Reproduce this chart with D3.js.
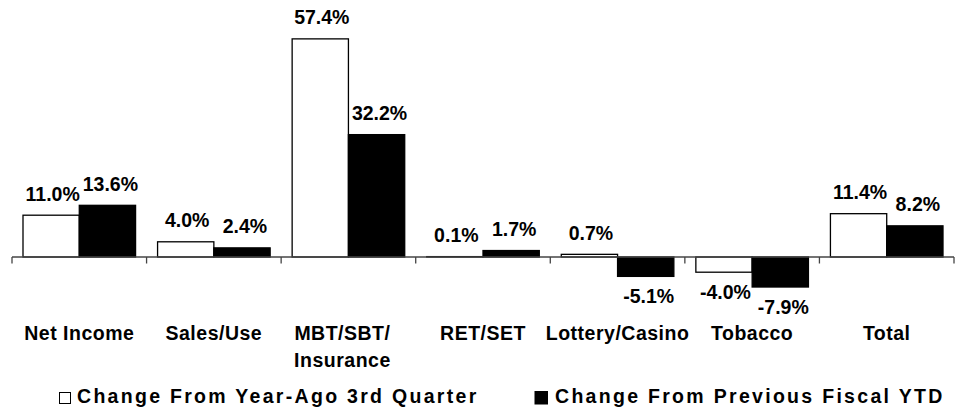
<!DOCTYPE html>
<html>
<head>
<meta charset="utf-8">
<script src="https://cdn.jsdelivr.net/npm/d3@7"></script>
<style>
  body { margin:0; background:#fff; }
  svg { display:block; font-family:"Liberation Sans", Arial, sans-serif; font-weight:bold; }
</style>
</head>
<body>
<div id="chart"></div>
<script>

var categories = [["Net Income"], ["Sales/Use"], ["MBT/SBT/", "Insurance"], ["RET/SET"], ["Lottery/Casino"], ["Tobacco"], ["Total"]];
var seriesNames = ["Change From Year-Ago 3rd Quarter", "Change From Previous Fiscal YTD"];
var yearAgoQuarter = [11.0, 4.0, 57.4, 0.1, 0.7, -4.0, 11.4];
var previousYTD = [13.6, 2.4, 32.2, 1.7, -5.1, -7.9, 8.2];
var seriesFill = ["#ffffff", "#000000"];

var width = 956, height = 413;

var svg = d3.select("#chart").append("svg")
  .attr("width", width)
  .attr("height", height);

var rows = categories.map(function(c, i){
  return {label:c, values:[yearAgoQuarter[i], previousYTD[i]]};
});

var x0 = d3.scaleBand()
  .domain(d3.range(categories.length))
  .range([12, 954])
  .padding(0);

var x1 = d3.scaleBand()
  .domain([0, 1])
  .range([11, x0.bandwidth() - 11])
  .padding(0);

var y = d3.scaleLinear()
  .domain([-10, 60])
  .range([295, 29]);

var groups = svg.append("g").selectAll("g")
  .data(rows)
  .enter().append("g")
  .attr("transform", function(d, i){ return "translate(" + x0(i) + ",0)"; });

groups.selectAll("rect")
  .data(function(d){ return d.values; })
  .enter().append("rect")
  .attr("x", function(d, j){ return x1(j); })
  .attr("y", function(d){ return y(Math.max(0, d)); })
  .attr("width", x1.bandwidth())
  .attr("height", function(d){ return Math.abs(y(d) - y(0)); })
  .attr("fill", function(d, j){ return seriesFill[j]; })
  .attr("stroke", "#000")
  .attr("stroke-width", 1.3);

groups.selectAll("text.val")
  .data(function(d){ return d.values; })
  .enter().append("text")
  .attr("class", "val")
  .attr("x", function(d, j){ return x1(j) + x1.bandwidth() / 2 + (j == 0 ? 1.5 : 3); })
  .attr("y", function(d){ return d >= 0 ? y(d) - 14.5 : y(d) + 27; })
  .attr("text-anchor", "middle")
  .attr("font-size", "19.5px")
  .text(function(d){ return d.toFixed(1) + "%"; });

// zero axis with ticks between categories
var axis = svg.append("g").attr("transform", "translate(0," + y(0) + ")");
axis.append("line")
  .attr("x1", x0.range()[0]).attr("x2", x0.range()[1])
  .attr("stroke", "#444").attr("stroke-width", 1.3);
axis.selectAll("line.tick")
  .data(d3.range(categories.length + 1))
  .enter().append("line")
  .attr("class", "tick")
  .attr("x1", function(i){ return x0.range()[0] + i * x0.step(); })
  .attr("x2", function(i){ return x0.range()[0] + i * x0.step(); })
  .attr("y1", 0).attr("y2", 6.5)
  .attr("stroke", "#444").attr("stroke-width", 1.3);

// category labels
var catText = svg.append("g").selectAll("text")
  .data(rows)
  .enter().append("text")
  .attr("x", function(d, i){ return x0(i) + x0.bandwidth() / 2 - (d.label.length > 1 ? 6 : 0); })
  .attr("y", 339.5)
  .attr("text-anchor", "middle")
  .attr("font-size", "19.5px")
  .attr("letter-spacing", "0.5px");

catText.selectAll("tspan")
  .data(function(d){ return d.label; })
  .enter().append("tspan")
  .attr("x", function(){ return d3.select(this.parentNode).attr("x"); })
  .attr("dy", function(d, k){ return k == 0 ? 0 : 27.5; })
  .text(function(d){ return d; });

// legend
var legendX = [59, 535];
var legend = svg.append("g").selectAll("g")
  .data(seriesNames)
  .enter().append("g")
  .attr("transform", function(d, i){ return "translate(" + legendX[i] + ",390)"; });

legend.append("rect")
  .attr("x", function(d, i){ return i == 0 ? 0.5 : 0; })
  .attr("y", function(d, i){ return i == 0 ? 2.5 : 1.5; })
  .attr("width", function(d, i){ return i == 0 ? 11 : 12.5; })
  .attr("height", function(d, i){ return i == 0 ? 11 : 12.5; })
  .attr("fill", function(d, i){ return seriesFill[i]; })
  .attr("stroke", "#000")
  .attr("stroke-width", 1);

legend.append("text")
  .attr("x", function(d, i){ return i == 0 ? 18 : 20; })
  .attr("y", 13)
  .attr("font-size", "19.5px")
  .attr("letter-spacing", "2.3px")
  .text(function(d){ return d; });

</script>
</body>
</html>
